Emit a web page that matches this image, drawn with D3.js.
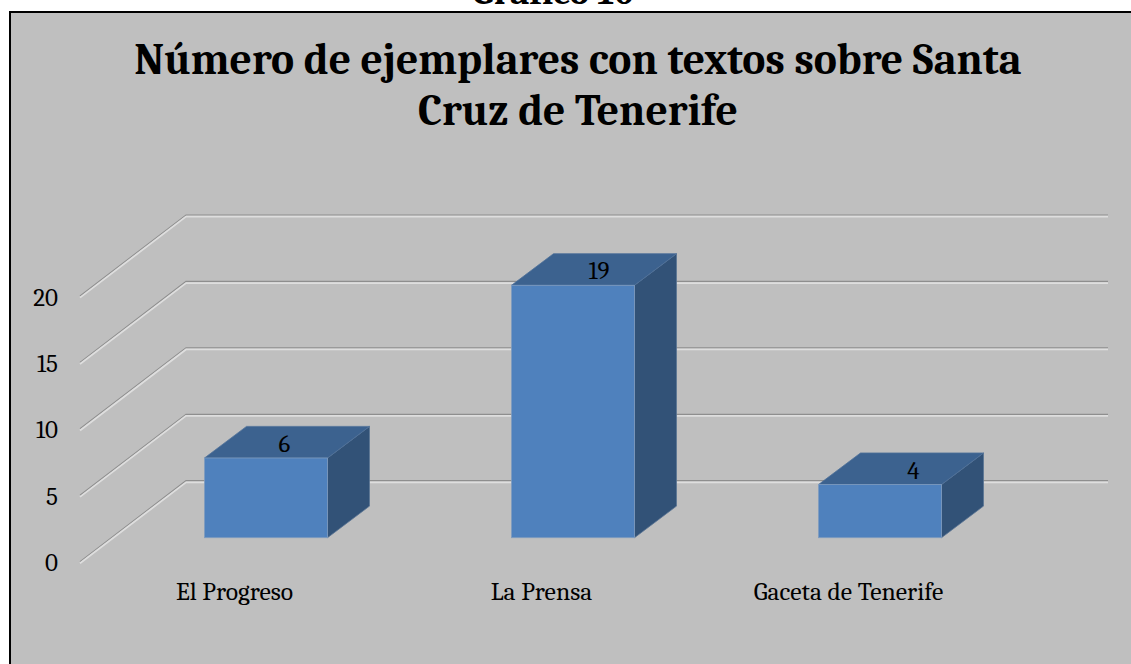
<!DOCTYPE html>
<html><head><meta charset="utf-8">
<script src="https://cdn.jsdelivr.net/npm/d3@7"></script>
<style>html,body{margin:0;padding:0;background:#fff;overflow:hidden}svg{display:block}</style>
</head><body><svg id="c" width="1131" height="664"></svg>
<script>
const categories = ["El Progreso", "La Prensa", "Gaceta de Tenerife"];
const values = [6, 19, 4];
const yTicks = [0, 5, 10, 15, 20];
const titleLines = ["Número de ejemplares con textos sobre Santa", "Cruz de Tenerife"];
const pageHeading = "Gráfico 10";

const font = "Cambria, Caladea, 'Liberation Serif', serif";
const svg = d3.select("#c");
const W = 1131, H = 664;
// Chart area: only the left and top edges carry a border
svg.append("rect").attr("x",10).attr("y",12).attr("width",W).attr("height",H).attr("fill","#bfbfbf");
svg.append("path").attr("d",`M10,${H}V12H${W}`).attr("fill","none").attr("stroke","#000").attr("stroke-width",2);
svg.append("text").attr("x",553).attr("y",3.5).attr("text-anchor","middle").attr("font-family",font).attr("font-weight","bold").attr("font-size",37).text(pageHeading);

svg.selectAll("text.t").data(titleLines).join("text").attr("class","t")
  .attr("x",578).attr("y",(d,i)=>74+i*51).attr("text-anchor","middle")
  .attr("font-family",font).attr("font-weight","bold").attr("font-size",43.6).attr("fill","#000").text(d=>d);

const y = d3.scaleLinear().domain([0,20]).range([562.7,297]);
const wallDx = 106, wallDy = -81;
const x = d3.scaleBand().domain(categories).range([112.5,1033.5]);
const barW = 123, barDx = 42, barDy = -31.6, baseOffset = -25;
const xEnd = 1108;

const gridG = svg.append("g");
yTicks.forEach(t=>{
  const p = d3.path();
  p.moveTo(80,y(t)); p.lineTo(80+wallDx,y(t)+wallDy); p.lineTo(xEnd,y(t)+wallDy);
  gridG.append("path").attr("d",p.toString()).attr("fill","none").attr("stroke","#8e8e8e").attr("stroke-width",1.2).attr("transform","translate(0,-1)");
  gridG.append("path").attr("d",p.toString()).attr("fill","none").attr("stroke","#dedede").attr("stroke-width",1.8).attr("transform","translate(0,0.6)");
});
svg.selectAll("text.yt").data(yTicks).join("text").attr("class","yt")
  .attr("x",58).attr("y",d=>y(d)+8.5).attr("text-anchor","end").attr("font-family",font).attr("font-size",25).attr("fill","#000").text(d=>d);

const bars = svg.selectAll("g.b").data(categories.map((c,i)=>({c,v:values[i],i}))).join("g").attr("class","b");
const bx = d=>x(d.c)+(x.bandwidth()-barW)/2;
const base = y(0)+baseOffset;
const top_ = d=>base-(y(0)-y(d.v));
const poly = pts=>d3.line()(pts)+"Z";
bars.append("path").attr("d",d=>poly([[bx(d)+barW,top_(d)],[bx(d)+barW+barDx,top_(d)+barDy],[bx(d)+barW+barDx,base+barDy],[bx(d)+barW,base]])).attr("fill","#325277").attr("stroke","#5a7594").attr("stroke-width",.8);
bars.append("path").attr("d",d=>poly([[bx(d),top_(d)],[bx(d)+barDx,top_(d)+barDy],[bx(d)+barW+barDx,top_(d)+barDy],[bx(d)+barW,top_(d)]])).attr("fill","#3c628f").attr("stroke","#4f7199").attr("stroke-width",.8);
bars.append("rect").attr("x",bx).attr("y",top_).attr("width",barW).attr("height",d=>base-top_(d)).attr("fill","#4f81bd").attr("stroke","#7f9cbf").attr("stroke-width",.8);
bars.append("text").attr("x",d=>bx(d)+80+7.5*d.i).attr("y",d=>top_(d)-6).attr("text-anchor","middle").attr("font-family",font).attr("font-size",25).attr("fill","#000").text(d=>d.v);

svg.selectAll("text.c").data(categories).join("text").attr("class","c")
  .attr("x",d=>x(d)+x.bandwidth()/2-31.5).attr("y",600).attr("text-anchor","middle").attr("font-family",font).attr("font-size",25.6).attr("fill","#000").text(d=>d);
</script></body></html>
